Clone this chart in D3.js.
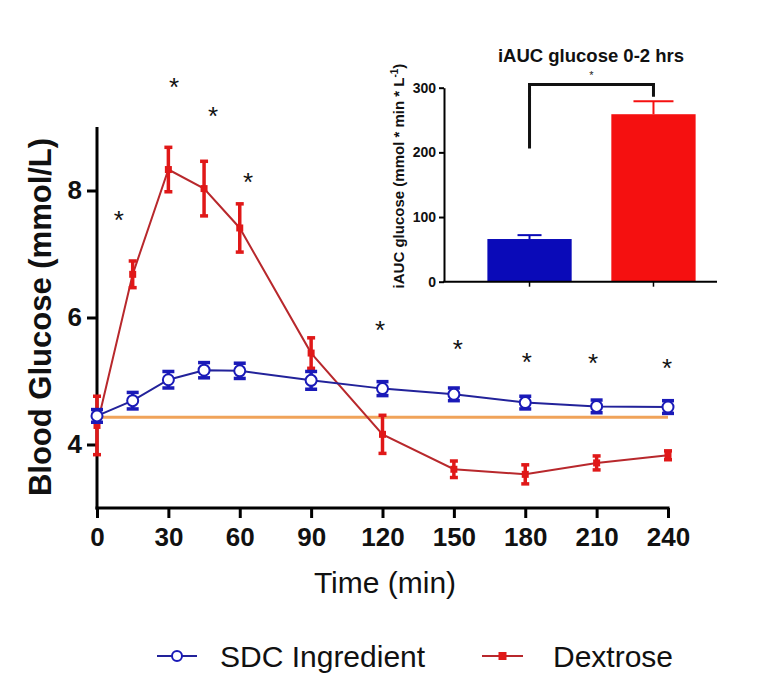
<!DOCTYPE html>
<html><head><meta charset="utf-8">
<script src="https://cdn.jsdelivr.net/npm/d3@7"></script>
<style>
body{margin:0;background:#fff;}
svg{display:block;font-family:"Liberation Sans",Arial,sans-serif;}
</style></head>
<body>
<script>
// ---- data ----
const times = [0, 15, 30, 45, 60, 90, 120, 150, 180, 210, 240];
const sdcMean = [4.45, 4.69, 5.02, 5.17, 5.16, 5.01, 4.88, 4.79, 4.66, 4.60, 4.59];
const sdcErr  = [0.10, 0.13, 0.13, 0.12, 0.12, 0.14, 0.11, 0.10, 0.10, 0.10, 0.10];
const dexMean = [4.30, 6.68, 8.33, 8.03, 7.41, 5.44, 4.16, 3.61, 3.53, 3.71, 3.83];
const dexErr  = [0.46, 0.21, 0.35, 0.43, 0.38, 0.24, 0.30, 0.13, 0.15, 0.11, 0.07];
const baselineValue = 4.43;
const starTimes  = [9.2, 32.4, 48.8, 63.5, 119, 151.7, 180.7, 208.5, 239.6];
const starValues = [7.6, 9.7, 9.23, 8.2, 5.86, 5.56, 5.37, 5.34, 5.26];
const xTicks = [0, 30, 60, 90, 120, 150, 180, 210, 240];
const yTicks = [4, 6, 8];
const seriesNames = ["SDC Ingredient", "Dextrose"];

const iaucCats = ["SDC Ingredient", "Dextrose"];
const iaucMean = [66, 259];
const iaucErr  = [6, 20];
const iaucTicks = [0, 100, 200, 300];
const bracketValues = [206, 305, 286];
const bracketStarValue = 322;

// ---- setup ----
const W = 760, H = 694;
const svg = d3.select("body").append("svg").attr("width", W).attr("height", H);

const x = d3.scaleLinear().domain([0, 240]).range([97, 668]);
const y = d3.scaleLinear().domain([3, 9]).range([508, 127]);

const BLUE = "#1a1ab8", BLUE_LINE = "#22229a";
const RED = "#e01818", RED_LINE = "#b8282c";

// axes
const gx = svg.append("g").attr("transform", `translate(0,${y(3)})`)
  .call(d3.axisBottom(x).tickValues(xTicks).tickSize(10).tickPadding(8).tickSizeOuter(0));
const gy = svg.append("g").attr("transform", `translate(${x(0)},0)`)
  .call(d3.axisLeft(y).tickValues(yTicks).tickSize(10).tickPadding(5).tickSizeOuter(0).tickFormat(d3.format("d")));
[gx, gy].forEach(g => {
  g.select(".domain").attr("stroke", "#000").attr("stroke-width", 3);
  g.selectAll(".tick line").attr("stroke", "#000").attr("stroke-width", 3);
  g.selectAll(".tick text").attr("fill", "#111").attr("font-size", 26).attr("font-weight", "bold")
    .attr("font-family", "Liberation Sans, Arial, sans-serif");
});
gx.selectAll(".tick text").attr("dy", "0.78em");
gx.select(".domain").attr("d", `M${x(0)-1.5},0H${x(240)+1.5}`);
gy.select(".domain").attr("d", `M0,${y(9)}V${y(3)+1.5}`);

// axis titles
svg.append("text").attr("transform", `translate(51,317) rotate(-90)`)
  .attr("text-anchor", "middle").attr("font-size", 31).attr("font-weight", "bold").attr("fill", "#111")
  .text("Blood Glucose (mmol/L)");
svg.append("text").attr("x", 385).attr("y", 593).attr("text-anchor", "middle")
  .attr("font-size", 30).attr("fill", "#111").text("Time (min)");

// baseline
svg.append("line").attr("x1", x(0)).attr("x2", x(240))
  .attr("y1", y(baselineValue)).attr("y2", y(baselineValue))
  .attr("stroke", "#f0a35a").attr("stroke-width", 3);

const line = d3.line().x(d => x(d[0])).y(d => y(d[1]));

function drawSeries(mean, err, lineColor, color, capW, kind) {
  const data = times.map((t, i) => [t, mean[i], err[i]]);
  svg.append("path").datum(data).attr("d", line).attr("fill", "none")
    .attr("stroke", lineColor).attr("stroke-width", 2);
  const g = svg.append("g");
  data.forEach(d => {
    g.append("line").attr("x1", x(d[0])).attr("x2", x(d[0]))
      .attr("y1", y(d[1] - d[2])).attr("y2", y(d[1] + d[2])).attr("stroke", color).attr("stroke-width", 3.5);
    [d[1] - d[2], d[1] + d[2]].forEach(v => {
      g.append("line").attr("x1", x(d[0]) - capW / 2).attr("x2", x(d[0]) + capW / 2)
        .attr("y1", y(v)).attr("y2", y(v)).attr("stroke", color).attr("stroke-width", 3.5);
    });
    if (kind === "circle") {
      g.append("circle").attr("cx", x(d[0])).attr("cy", y(d[1])).attr("r", 5.5)
        .attr("fill", "#fff").attr("stroke", color).attr("stroke-width", 2);
    } else {
      g.append("rect").attr("x", x(d[0]) - 3.5).attr("y", y(d[1]) - 3.5)
        .attr("width", 7).attr("height", 7).attr("fill", color);
    }
  });
}
drawSeries(dexMean, dexErr, RED_LINE, RED, 8, "square");
drawSeries(sdcMean, sdcErr, BLUE_LINE, BLUE, 12, "circle");

// stars
svg.append("g").selectAll("text").data(starTimes).join("text")
  .attr("x", (d) => x(d)).attr("y", (d, i) => y(starValues[i]) + 13)
  .attr("text-anchor", "middle").attr("font-size", 26).attr("fill", "#111").text("*");

// legend
const leg = svg.append("g");
const legItems = [
  {name: seriesNames[0], x1: 157, x2: 197, tx: 220, color: BLUE, lc: BLUE_LINE, kind: "circle"},
  {name: seriesNames[1], x1: 482, x2: 523, tx: 553, color: RED, lc: RED_LINE, kind: "square"}
];
legItems.forEach(it => {
  leg.append("line").attr("x1", it.x1).attr("x2", it.x2).attr("y1", 656).attr("y2", 656)
    .attr("stroke", it.lc).attr("stroke-width", 2);
  const cx = (it.x1 + it.x2) / 2;
  if (it.kind === "circle") {
    leg.append("circle").attr("cx", cx).attr("cy", 656).attr("r", 5).attr("fill", "#fff")
      .attr("stroke", it.color).attr("stroke-width", 2);
  } else {
    leg.append("rect").attr("x", cx - 4).attr("y", 652).attr("width", 8).attr("height", 8).attr("fill", it.color);
  }
  leg.append("text").attr("x", it.tx).attr("y", 667).attr("font-size", 30).attr("fill", "#111").text(it.name);
});

// ---- inset ----
const ix = d3.scaleBand().domain(iaucCats).range([444, 739]).paddingInner(0.32).paddingOuter(0.35);
const iy = d3.scaleLinear().domain([0, 300]).range([281.7, 87.7]);
const ins = svg.append("g");
const iColors = ["#0a0ab8", "#f51010"];

ins.selectAll("rect.bar").data(iaucMean).join("rect").attr("class", "bar")
  .attr("x", (d, i) => ix(iaucCats[i])).attr("width", ix.bandwidth())
  .attr("y", d => iy(d)).attr("height", d => iy(0) - iy(d))
  .attr("fill", (d, i) => iColors[i]);
iaucMean.forEach((m, i) => {
  const cx = ix(iaucCats[i]) + ix.bandwidth() / 2;
  const capW = i === 0 ? 24 : 40;
  ins.append("line").attr("x1", cx).attr("x2", cx).attr("y1", iy(m)).attr("y2", iy(m + iaucErr[i]))
    .attr("stroke", iColors[i]).attr("stroke-width", 2);
  ins.append("line").attr("x1", cx - capW / 2).attr("x2", cx + capW / 2)
    .attr("y1", iy(m + iaucErr[i])).attr("y2", iy(m + iaucErr[i]))
    .attr("stroke", iColors[i]).attr("stroke-width", 2);
});

const iyAxis = ins.append("g").attr("transform", "translate(444,0)")
  .call(d3.axisLeft(iy).tickValues(iaucTicks).tickSize(5).tickPadding(3).tickSizeOuter(0));
iyAxis.select(".domain").attr("stroke", "#000").attr("stroke-width", 2);
iyAxis.selectAll(".tick line").attr("stroke", "#000").attr("stroke-width", 2);
iyAxis.selectAll(".tick text").attr("font-size", 14).attr("font-weight", "bold").attr("fill", "#111")
  .attr("font-family", "Liberation Sans, Arial, sans-serif");

ins.append("line").attr("x1", 443).attr("x2", 717).attr("y1", iy(0)).attr("y2", iy(0))
  .attr("stroke", "#000").attr("stroke-width", 2);
iaucCats.forEach(c => {
  const cx = ix(c) + ix.bandwidth() / 2;
  ins.append("line").attr("x1", cx).attr("x2", cx).attr("y1", iy(0)).attr("y2", iy(0) + 5)
    .attr("stroke", "#000").attr("stroke-width", 1.5);
});

// bracket
const c0 = ix(iaucCats[0]) + ix.bandwidth() / 2, c1 = ix(iaucCats[1]) + ix.bandwidth() / 2;
ins.append("path")
  .attr("d", `M${c0},${iy(bracketValues[0])}V${iy(bracketValues[1])}H${c1}V${iy(bracketValues[2])}`)
  .attr("fill", "none").attr("stroke", "#111").attr("stroke-width", 3);
ins.append("text").attr("x", (c0 + c1) / 2).attr("y", iy(bracketStarValue) + 6)
  .attr("text-anchor", "middle").attr("font-size", 11).attr("fill", "#222").text("*");

ins.append("text").attr("x", 591).attr("y", 62).attr("text-anchor", "middle")
  .attr("font-size", 18.5).attr("font-weight", "bold").attr("fill", "#111").text("iAUC glucose 0-2 hrs");

const yl = ins.append("text").attr("transform", "translate(404,176) rotate(-90)")
  .attr("text-anchor", "middle").attr("font-size", 15).attr("font-weight", "bold").attr("fill", "#111");
yl.append("tspan").text("iAUC glucose (mmol * min * L");
yl.append("tspan").attr("font-size", 10).attr("dy", -6).text("-1");
yl.append("tspan").attr("dy", 6).text(")");
</script>
</body></html>
